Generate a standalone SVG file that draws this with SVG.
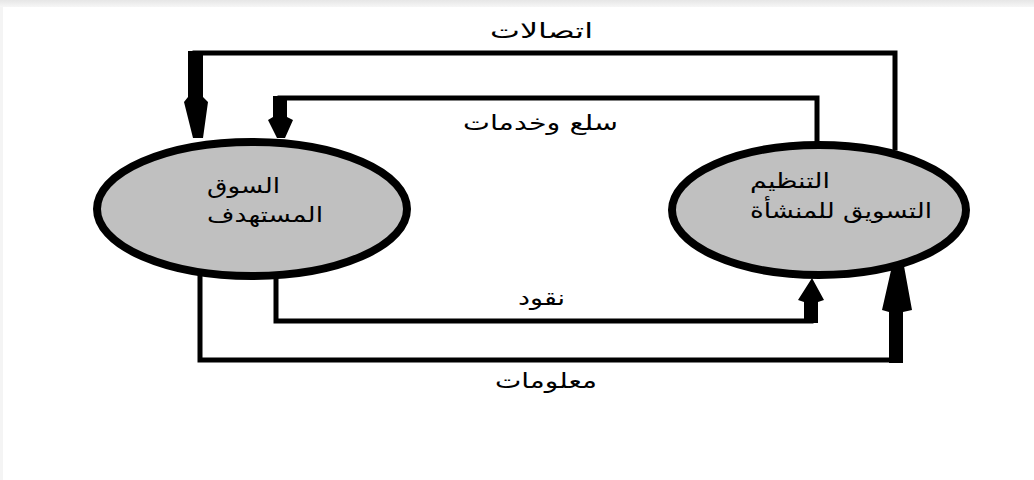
<svg xmlns="http://www.w3.org/2000/svg" width="1034" height="480" viewBox="0 0 1034 480">
<defs>
<linearGradient id="topband" x1="0" y1="0" x2="0" y2="1">
<stop offset="0" stop-color="#e6e6e6"/>
<stop offset="1" stop-color="#f6f6f6"/>
</linearGradient>
<style>
.ln{fill:none;stroke:#000;stroke-width:5;stroke-linecap:square;stroke-linejoin:miter}
.ar{fill:#000;stroke:none}
.node{fill:#c0c0c0;stroke:#000;stroke-width:8}
.t{font-family:"DejaVu Sans",sans-serif;font-size:21px;fill:#000}
</style>
</defs>
<rect x="0" y="0" width="1034" height="480" fill="#fff"/>
<rect x="0" y="0" width="1034" height="7" fill="url(#topband)"/>
<rect x="0" y="7" width="3" height="473" fill="#f4f4f4"/>
<g id="connectors">
<path class="ln" d="M895,148 V53 H195"/>
<polygon class="ar" points="188,51 203,51 203,97 208,102 203,138 193,138 184,102 188,97"/>
<path class="ln" d="M817,142 V98 H280"/>
<polygon class="ar" points="273,96 287,96 287,117 293,120 285,138 277,138 268,120 273,117"/>
<path class="ln" d="M276,280 V321 H811"/>
<polygon class="ar" points="804,323 818,323 818,302 824,300 812,278 798,300 804,302"/>
<path class="ln" d="M200,276 V360 H896"/>
<polygon class="ar" points="889,363 903,363 903,312 912,310 904,266 892,266 882,310 889,312"/>
</g>
<g id="node-market">
<ellipse class="node" cx="252" cy="209" rx="155" ry="67"/>
<text class="t" x="207" y="193" text-anchor="end" direction="rtl" textLength="73" lengthAdjust="spacingAndGlyphs">السوق</text>
<text class="t" x="207" y="222" text-anchor="end" direction="rtl" textLength="116" lengthAdjust="spacingAndGlyphs">المستهدف</text>
</g>
<g id="node-org">
<ellipse class="node" cx="819" cy="210" rx="147" ry="65"/>
<text class="t" x="750" y="188" text-anchor="end" direction="rtl" textLength="80" lengthAdjust="spacingAndGlyphs">التنظيم</text>
<text class="t" x="750" y="218" text-anchor="end" direction="rtl" textLength="182" lengthAdjust="spacingAndGlyphs">التسويق للمنشأة</text>
</g>
<g id="labels">
<text class="t" x="490" y="38" text-anchor="end" direction="rtl" textLength="103" lengthAdjust="spacingAndGlyphs">اتصالات</text>
<text class="t" x="463" y="130" text-anchor="end" direction="rtl" textLength="155" lengthAdjust="spacingAndGlyphs">سلع وخدمات</text>
<text class="t" x="518" y="305" text-anchor="end" direction="rtl" textLength="47" lengthAdjust="spacingAndGlyphs">نقود</text>
<text class="t" x="495" y="388" text-anchor="end" direction="rtl" textLength="102" lengthAdjust="spacingAndGlyphs">معلومات</text>
</g>
</svg>
